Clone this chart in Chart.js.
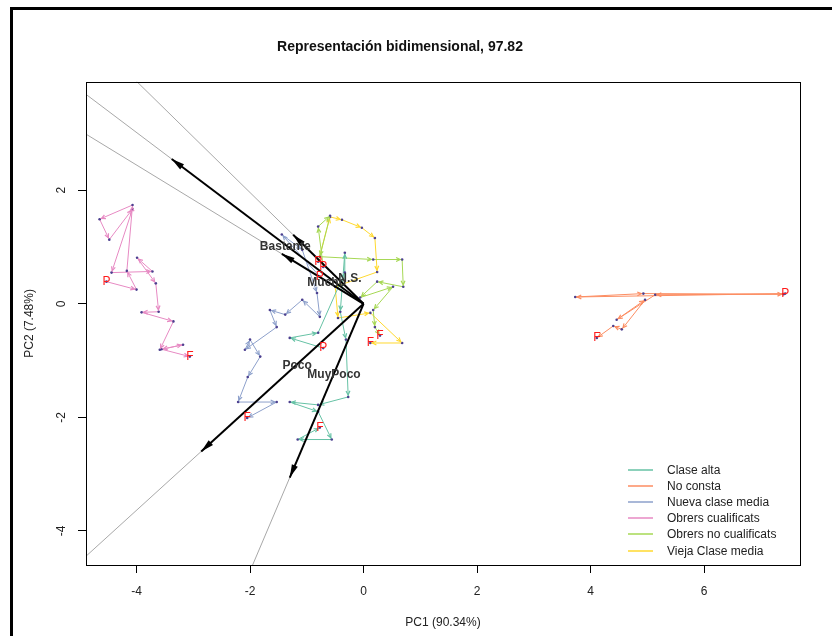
<!DOCTYPE html>
<html>
<head>
<meta charset="utf-8">
<script src="https://cdn.jsdelivr.net/npm/chart.js@4.4.0/dist/chart.umd.min.js"></script>
<style>
  html, body { margin: 0; padding: 0; background: #fff; }
  #wrap { position: relative; width: 832px; height: 636px; }
  #frame { position: absolute; left: 10px; top: 7px; right: 0; bottom: 0;
           border-left: 3px solid #000; border-top: 3px solid #000; pointer-events: none; }
</style>
</head>
<body>
<div id="wrap">
  <canvas id="chart" width="832" height="636"></canvas>
  <div id="frame"></div>
</div>
<script>
// groups and colours (legend order)
const groups = ['Clase alta', 'No consta', 'Nueva clase media', 'Obrers cualificats', 'Obrers no cualificats', 'Vieja Clase media'];
const groupColors = ['#66C2A5', '#FC8D62', '#8DA0CB', '#E78AC3', '#A6D854', '#FFD92F'];

// trajectories, PC1 / PC2 per group (first point = P, last point = F)
const pc1ClaseAlta = [-0.71, -1.30, -0.80, -0.33, -0.33, -0.41, -0.31, -0.27, -0.80, -1.30, -0.80, -0.56, -1.16, -0.77];
const pc2ClaseAlta = [-0.78, -0.60, -0.51, 0.55, 0.90, -0.14, -0.63, -1.64, -1.78, -1.73, -1.90, -2.39, -2.39, -2.18];
const pc1NoConsta = [7.43, 3.73, 4.93, 7.40, 5.14, 4.46, 4.96, 4.55, 4.40, 4.11];
const pc2NoConsta = [0.18, 0.12, 0.18, 0.17, 0.16, -0.28, 0.07, -0.45, -0.39, -0.60];
const pc1NuevaMedia = [-0.77, -1.44, -1.08, -0.82, -0.77, -1.08, -1.38, -1.65, -1.53, -2.09, -2.00, -1.82, -2.04, -2.21, -1.53, -2.05];
const pc2NuevaMedia = [0.48, 1.22, 0.95, 0.19, -0.23, 0.07, -0.19, -0.11, -0.41, -0.81, -0.63, -0.93, -1.29, -1.73, -1.73, -2.01];
const pc1Cualif = [-4.53, -4.00, -4.17, -4.07, -4.65, -4.48, -4.07, -4.44, -3.72, -3.99, -3.66, -3.61, -3.91, -3.35, -3.59, -3.18, -3.56, -3.06];
const pc2Cualif = [0.39, 0.25, 0.58, 1.74, 1.49, 1.13, 1.67, 0.55, 0.57, 0.81, 0.36, -0.14, -0.15, -0.31, -0.81, -0.72, -0.80, -0.93];
const pc1NoCualif = [-0.71, -0.80, -0.59, -0.77, 0.17, 0.68, 0.70, 0.24, -0.06, 0.52, 0.17, 0.20, 0.29];
const pc2NoCualif = [0.65, 1.36, 1.55, 0.83, 0.78, 0.78, 0.30, 0.39, 0.11, 0.30, -0.11, -0.41, -0.56];
const pc1ViejaMedia = [-0.80, -0.59, -0.38, -0.03, 0.20, 0.24, -0.50, -0.45, 0.12, 0.68, 0.12];
const pc2ViejaMedia = [0.74, 1.53, 1.48, 1.34, 1.16, 0.56, 0.30, -0.25, -0.16, -0.69, -0.69];

const trajX = [pc1ClaseAlta, pc1NoConsta, pc1NuevaMedia, pc1Cualif, pc1NoCualif, pc1ViejaMedia];
const trajY = [pc2ClaseAlta, pc2NoConsta, pc2NuevaMedia, pc2Cualif, pc2NoCualif, pc2ViejaMedia];

// variable arrows (biplot loadings) and where their names sit
const varNames = ['Bastante', 'Mucho', 'N.S.', 'Poco', 'MuyPoco'];
const varTipX = [-3.38, -1.44, -1.24, -2.86, -1.30];
const varTipY = [2.55, 0.88, 1.215, -2.60, -3.06];
const varLabX = [-1.38, -0.65, -0.24, -1.17, -0.52];
const varLabY = [1.00, 0.37, 0.45, -1.09, -1.25];

const xTicks = [-4, -2, 0, 2, 4, 6];
const yTicks = [-4, -2, 0, 2];

const FONT = 'Liberation Sans, Arial, sans-serif';

function toPts(xs, ys) {
    return xs.map((x, i) => ({x: x, y: ys[i]}));
}

let datasets = [];
// long grey guide lines through each loading
for (let i = 0; i < varNames.length; i++) {
    datasets.push({
        kind: 'guide',
        data: [{x: 0, y: 0}, {x: varTipX[i] * 6, y: varTipY[i] * 6}],
        showLine: true, borderColor: '#a8a8a8', borderWidth: 1,
        pointRadius: 0, order: 3
    });
}
for (let g = 0; g < groups.length; g++) {
    datasets.push({
        kind: 'traj', label: groups[g],
        data: toPts(trajX[g], trajY[g]),
        showLine: true, borderColor: groupColors[g], borderWidth: 1,
        pointRadius: 1.3, pointBackgroundColor: '#4b3f8f', pointBorderWidth: 0,
        order: 2
    });
}
for (let i = 0; i < varNames.length; i++) {
    datasets.push({
        kind: 'loading',
        data: [{x: 0, y: 0}, {x: varTipX[i], y: varTipY[i]}],
        showLine: true, borderColor: '#000', borderWidth: 2,
        pointRadius: 0, order: 1
    });
}

function openHead(ctx, a, b, len, ang, back)
{
    let t = Math.atan2(b.y - a.y, b.x - a.x);
    let tx = b.x - back * Math.cos(t), ty = b.y - back * Math.sin(t);
    ctx.beginPath();
    ctx.moveTo(tx - len * Math.cos(t - ang), ty - len * Math.sin(t - ang));
    ctx.lineTo(tx, ty);
    ctx.lineTo(tx - len * Math.cos(t + ang), ty - len * Math.sin(t + ang));
    ctx.stroke();
}

function filledHead(ctx, a, b, len, half)
{
    let t = Math.atan2(b.y - a.y, b.x - a.x);
    let c = Math.cos(t), s = Math.sin(t);
    ctx.beginPath();
    ctx.moveTo(b.x, b.y);
    ctx.lineTo(b.x - len * c - half * s, b.y - len * s + half * c);
    ctx.lineTo(b.x - len * c + half * s, b.y - len * s - half * c);
    ctx.closePath();
    ctx.fill();
}

const decor = {
    id: 'decor',
    afterDatasetDraw(chart, args) {
        let ds = chart.data.datasets[args.index];
        let ctx = chart.ctx, area = chart.chartArea;
        ctx.save();
        ctx.beginPath();
        ctx.rect(area.left, area.top, area.right - area.left, area.bottom - area.top);
        ctx.clip();
        let pts = args.meta.data;
        if (ds.kind === 'traj') {
            ctx.strokeStyle = ds.borderColor;
            ctx.lineWidth = 1.2;
            for (let k = 1; k < pts.length; k++) {
                openHead(ctx, pts[k - 1], pts[k], 4.5, 0.45, 2);
            }
        }
        if (ds.kind === 'loading') {
            ctx.fillStyle = '#000';
            filledHead(ctx, pts[0], pts[1], 13, 3.2);
        }
        ctx.restore();
    },
    afterDatasetsDraw(chart) {
        let ctx = chart.ctx, area = chart.chartArea;
        let xs = chart.scales.x, ys = chart.scales.y;
        ctx.save();
        // plot box
        ctx.strokeStyle = '#000';
        ctx.lineWidth = 1;
        ctx.strokeRect(Math.round(area.left) + 0.5, Math.round(area.top) + 0.5,
                       Math.round(area.right - area.left), Math.round(area.bottom - area.top));
        // P / F marks
        ctx.font = '12px ' + FONT;
        ctx.fillStyle = '#ff1a1a';
        ctx.textAlign = 'center';
        ctx.textBaseline = 'middle';
        for (let g = 0; g < groups.length; g++) {
            let n = trajX[g].length;
            ctx.fillText('P', xs.getPixelForValue(trajX[g][0]), ys.getPixelForValue(trajY[g][0]));
            ctx.fillText('F', xs.getPixelForValue(trajX[g][n - 1]), ys.getPixelForValue(trajY[g][n - 1]));
        }
        // variable names
        ctx.font = 'bold 12px ' + FONT;
        ctx.fillStyle = '#333';
        for (let i = 0; i < varNames.length; i++) {
            ctx.fillText(varNames[i], xs.getPixelForValue(varLabX[i]), ys.getPixelForValue(varLabY[i]));
        }
        // legend (no box)
        ctx.font = '12px ' + FONT;
        ctx.textAlign = 'left';
        ctx.fillStyle = '#222';
        ctx.lineWidth = 1.5;
        let y0 = area.bottom - 95;
        for (let g = 0; g < groups.length; g++) {
            let y = Math.round(y0 + g * 16.1);
            ctx.strokeStyle = groupColors[g];
            ctx.beginPath();
            ctx.moveTo(area.right - 172, y);
            ctx.lineTo(area.right - 147, y);
            ctx.stroke();
            ctx.fillText(groups[g], area.right - 133, y + 1);
        }
        ctx.restore();
    }
};

new Chart(document.getElementById('chart'), {
    type: 'scatter',
    data: {datasets: datasets},
    plugins: [decor],
    options: {
        responsive: false,
        animation: false,
        events: [],
        layout: {padding: {left: 0, right: 32, top: 0, bottom: 0}},
        plugins: {
            legend: {display: false},
            tooltip: {enabled: false},
            title: {
                display: true,
                text: 'Representación bidimensional, 97.82',
                color: '#111',
                font: {family: FONT, size: 14, weight: 'bold'},
                padding: {top: 39, bottom: 26}
            }
        },
        scales: {
            x: {
                type: 'linear', min: -4.89, max: 7.69,
                afterBuildTicks: (s) => { s.ticks = xTicks.map(v => ({value: v})); },
                afterFit: (s) => { s.height = 71; },
                grid: {drawOnChartArea: false, drawTicks: true, tickLength: 8, color: '#000'},
                border: {display: false},
                ticks: {color: '#222', font: {family: FONT, size: 12}, padding: 11, maxRotation: 0},
                title: {display: true, text: 'PC1 (90.34%)', color: '#222',
                        font: {family: FONT, size: 12}, padding: {top: 0, bottom: 6}}
            },
            y: {
                type: 'linear', min: -4.6, max: 3.91,
                afterBuildTicks: (s) => { s.ticks = yTicks.map(v => ({value: v})); },
                afterFit: (s) => { s.width = 86; },
                grid: {drawOnChartArea: false, drawTicks: true, tickLength: 8, color: '#000'},
                border: {display: false},
                ticks: {color: '#222', font: {family: FONT, size: 12}, padding: 11,
                        minRotation: 90, maxRotation: 90, crossAlign: 'center'},
                title: {display: true, text: 'PC2 (7.48%)', color: '#222',
                        font: {family: FONT, size: 12}, padding: {top: 22, bottom: 0}}
            }
        }
    }
});
</script>
</body>
</html>
